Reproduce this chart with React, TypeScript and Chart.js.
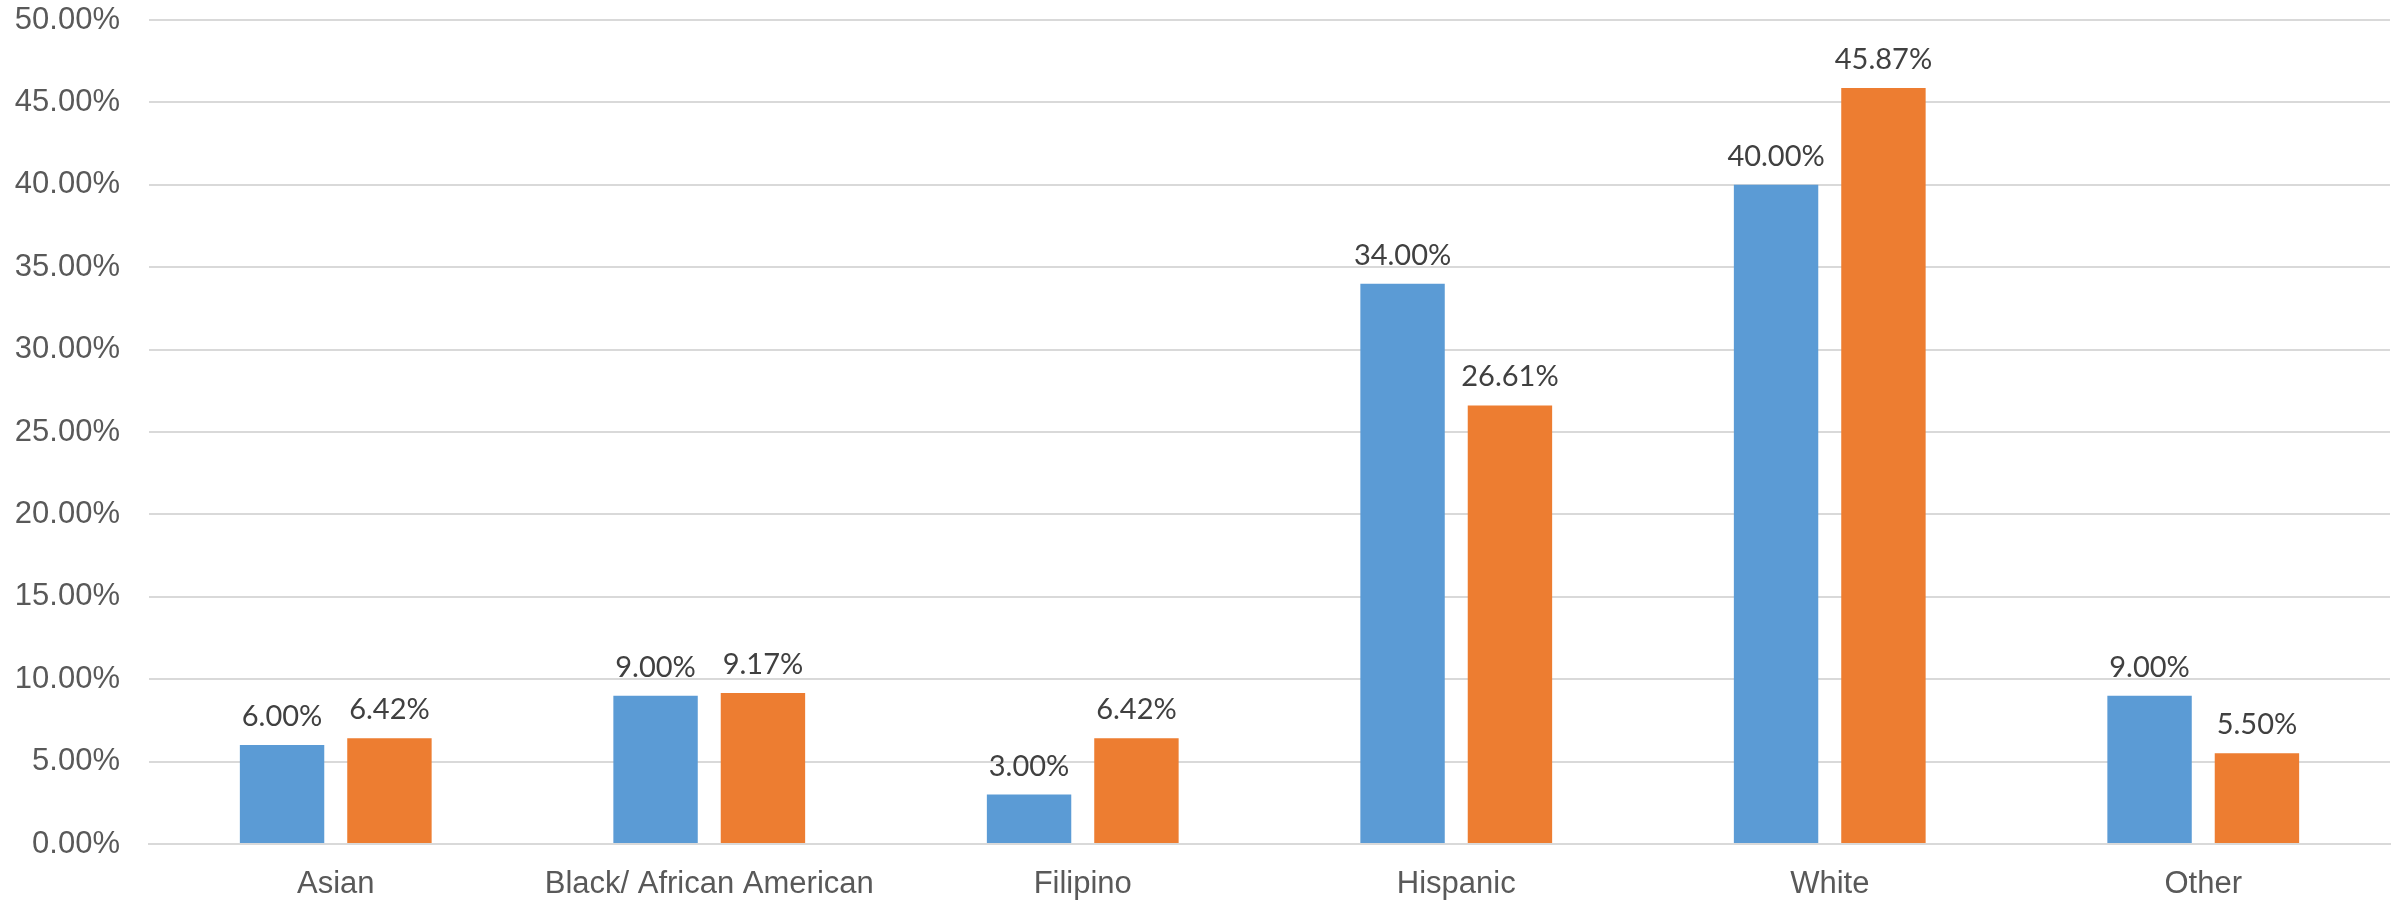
import React, { useEffect, useRef } from "react";
import { Chart, registerables } from "chart.js";

Chart.register(...registerables);

const categories = ["Asian", "Black/ African American", "Filipino", "Hispanic", "White", "Other"];
const seriesA = [6.0, 9.0, 3.0, 34.0, 40.0, 9.0];
const seriesB = [6.42, 9.17, 6.42, 26.61, 45.87, 5.5];
const yMin = 0;
const yMax = 50;
const yStep = 5;

const dataLabelPlugin = {
  id: "dataLabels",
  afterDatasetsDraw(chart: any) {
    const ctx = chart.ctx;
    ctx.save();
    ctx.font = "29px Lato";
    ctx.fillStyle = "#404040";
    ctx.textAlign = "center";
    ctx.textBaseline = "alphabetic";
    chart.data.datasets.forEach((ds: any, di: number) => {
      const meta = chart.getDatasetMeta(di);
      meta.data.forEach((bar: any, i: number) => {
        const v = ds.data[i] as number;
        ctx.fillText(v.toFixed(2) + "%", bar.x, bar.y - 19);
      });
    });
    ctx.restore();
  },
};

export default function App() {
  const ref = useRef<HTMLCanvasElement | null>(null);
  useEffect(() => {
    document.body.style.margin = "0";
    const canvas = ref.current!;
    const chart = new Chart(canvas, {
      type: "bar",
      data: {
        labels: categories,
        datasets: [
          {
            label: "A",
            data: seriesA,
            backgroundColor: "#5B9BD5",
            categoryPercentage: 0.575,
            barPercentage: 0.786,
          },
          {
            label: "B",
            data: seriesB,
            backgroundColor: "#ED7D31",
            categoryPercentage: 0.575,
            barPercentage: 0.786,
          },
        ],
      },
      options: {
        responsive: false,
        animation: false,
        devicePixelRatio: 1,
        layout: { padding: { left: 0, right: 15, top: 20, bottom: 0 } },
        plugins: {
          legend: { display: false },
          tooltip: { enabled: false },
        },
        scales: {
          x: {
            grid: { display: false, drawTicks: false },
            border: { display: true, color: "#d9d9d9", width: 2 },
            ticks: {
              color: "#595959",
              font: { family: "Liberation Sans", size: 31 },
              padding: 22,
              maxRotation: 0,
              autoSkip: false,
            },
            afterFit: (scale: any) => {
              scale.height = 58;
              scale.paddingLeft = 0;
              scale.paddingRight = 0;
            },
          },
          y: {
            min: yMin,
            max: yMax,
            grid: { color: "#d9d9d9", lineWidth: 2, drawTicks: false },
            border: { display: false },
            ticks: {
              stepSize: yStep,
              color: "#595959",
              font: { family: "Liberation Sans", size: 31 },
              padding: 29,
              callback: (v: any) => Number(v).toFixed(2) + "%",
            },
            afterFit: (scale: any) => {
              scale.width = 149;
              scale.paddingTop = 0;
              scale.paddingBottom = 0;
            },
          },
        },
      },
      plugins: [dataLabelPlugin],
    });
    return () => chart.destroy();
  }, []);
  return (
    <div style={{ position: "absolute", left: 0, top: 0, width: 2405, height: 902, background: "#fff" }}>
      <canvas ref={ref} width={2405} height={902} />
    </div>
  );
}
